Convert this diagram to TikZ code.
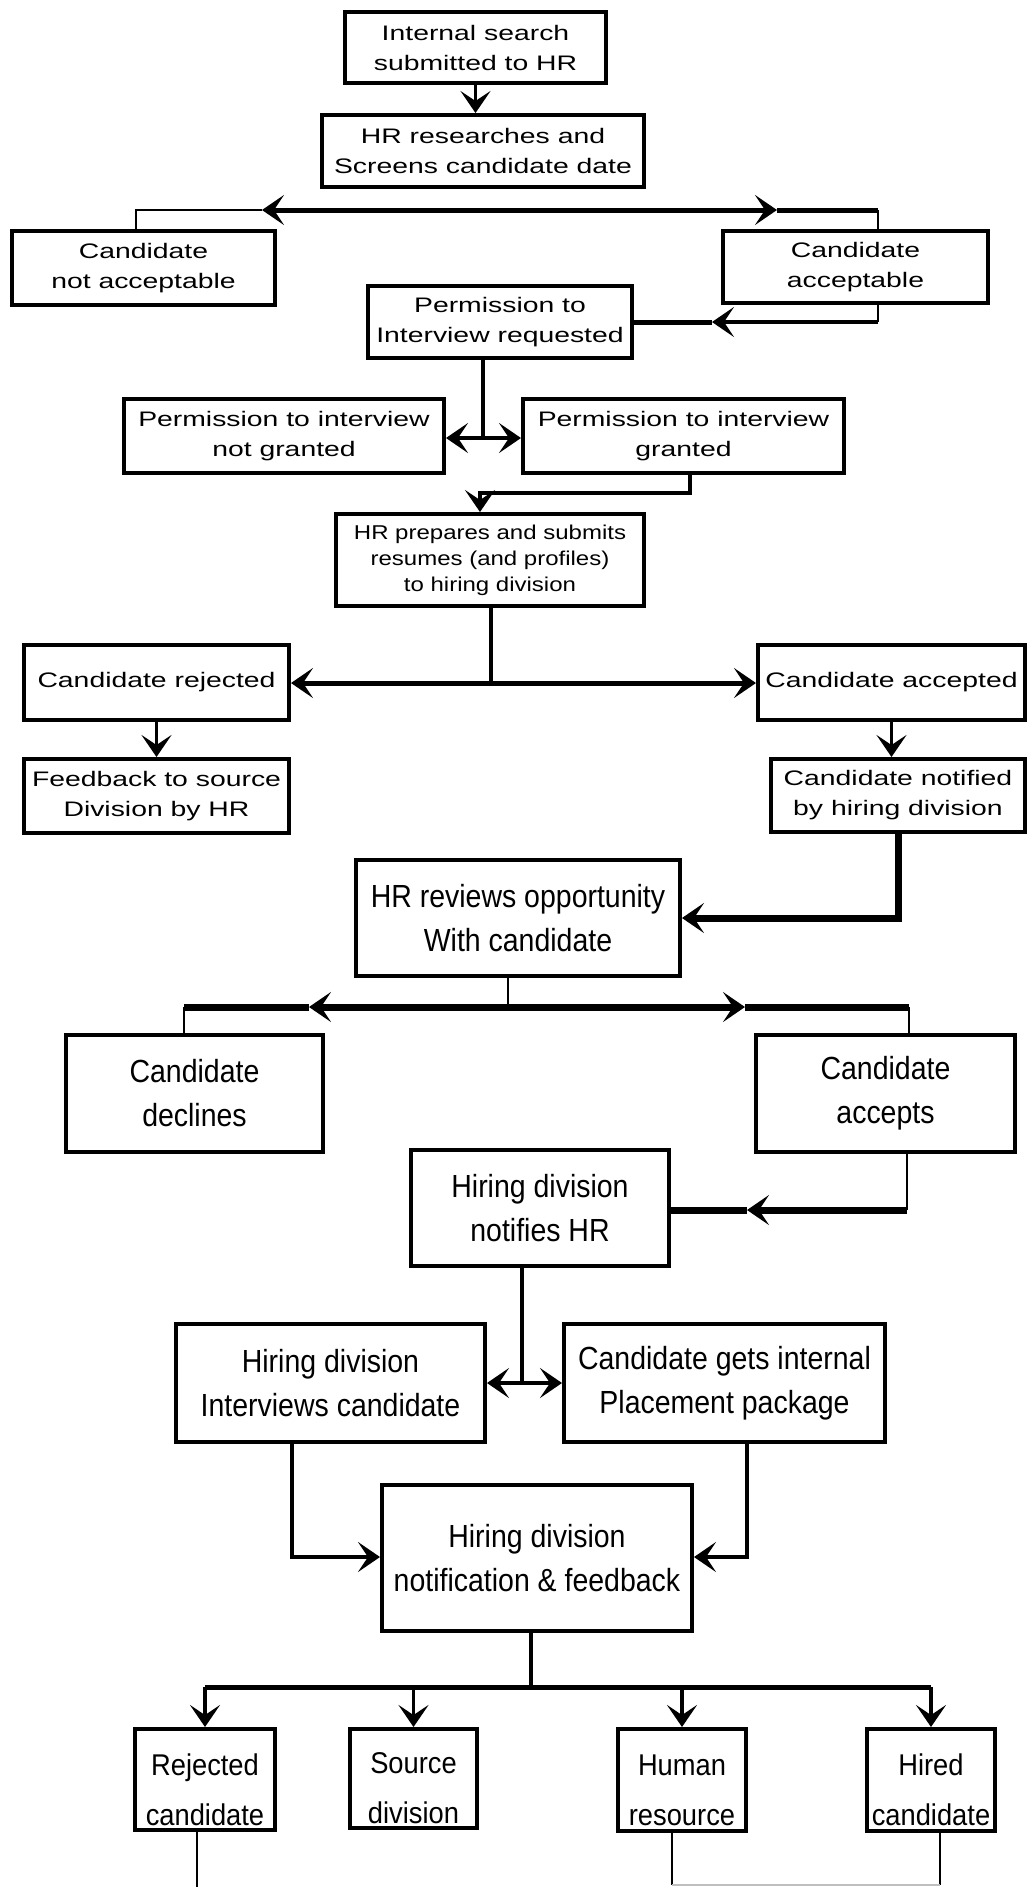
\documentclass[tikz,border=0pt]{standalone}
\usepackage{fontspec}
\setmainfont{Liberation Sans}
\newfontfamily\topfont[FakeStretch=1.35]{Liberation Sans}
\newfontfamily\midfont[FakeStretch=1.2]{Liberation Sans}
\newfontfamily\botfont[FakeStretch=0.89]{Liberation Sans}
\newfontfamily\smlfont[FakeStretch=0.91]{Liberation Sans}
\usetikzlibrary{arrows.meta}

\newcommand\placebox[7]{%
  \pgfmathsetmacro\bxw{(#4-#2)*0.5-1.8}%
  \pgfmathsetmacro\bxh{(#5-#3)*0.5-1.8}%
  \node[#6, minimum width=\bxw pt, minimum height=\bxh pt] (#1) at ({(#2+#4)/2},{(#3+#5)/2}) {#7};%
}

\tikzset{
  box/.style={draw, line width=1.8pt, inner sep=0pt, align=center, fill=white},
  topbox/.style={box, font=\topfont\fontsize{10.5}{15}\selectfont},
  midbox/.style={box, font=\midfont\fontsize{10}{13}\selectfont},
  botbox/.style={box, font=\botfont\fontsize{16}{22}\selectfont},
  smlbox/.style={box},
  smltext/.style={font=\smlfont\fontsize{15}{25}\selectfont, align=center, inner sep=0pt},
  lnthin/.style={line width=1pt},
  lnmid/.style={line width=1.6pt},
  lnthk/.style={line width=2.5pt},
  lnhvy/.style={line width=3.5pt},
  arr/.style={-{Stealth[length=11pt,width=15pt,inset=5pt]}},
}

\begin{document}
\begin{tikzpicture}[x=0.5pt,y=-0.5pt]
\fill[white] (0,0) rectangle (1030,1887);
\useasboundingbox (0,0) rectangle (1030,1887);

% boxes
\placebox{b1}{343}{10}{608}{85}{topbox}{Internal search\\submitted to HR}
\placebox{b2}{320}{113}{646}{189}{topbox}{HR researches and\\Screens candidate date}
\placebox{b4}{10}{229}{277}{307}{topbox}{Candidate\\not acceptable}
\placebox{b5}{721}{229}{990}{305}{topbox}{Candidate\\acceptable}
\placebox{b6}{366}{284}{634}{360}{topbox}{Permission to\\Interview requested}
\placebox{b7}{122}{397}{446}{475}{topbox}{Permission to interview\\not granted}
\placebox{b8}{521}{397}{846}{475}{topbox}{Permission to interview\\granted}
\placebox{b9}{334}{512}{646}{608}{midbox}{HR prepares and submits\\resumes (and profiles)\\to hiring division}
\placebox{b11}{22}{643}{291}{722}{topbox}{Candidate rejected}
\placebox{b12}{756}{643}{1027}{722}{topbox}{Candidate accepted}
\placebox{b13}{22}{757}{291}{835}{topbox}{Feedback to source\\Division by HR}
\placebox{b14}{769}{757}{1027}{834}{topbox}{Candidate notified\\by hiring division}
\placebox{b15}{354}{858}{682}{978}{botbox}{HR reviews opportunity\\With candidate}
\placebox{b17}{64}{1033}{325}{1154}{botbox}{Candidate\\declines}
\placebox{b18}{754}{1033}{1017}{1154}{botbox}{Candidate\\accepts}
\placebox{b19}{409}{1148}{671}{1268}{botbox}{Hiring division\\notifies HR}
\placebox{b20}{174}{1322}{487}{1444}{botbox}{Hiring division\\Interviews candidate}
\placebox{b21}{562}{1322}{887}{1444}{botbox}{Candidate gets internal\\Placement package}
\placebox{b22}{380}{1483}{694}{1633}{botbox}{Hiring division\\notification \& feedback}
\placebox{b23}{133}{1727}{277}{1832}{smlbox}{}
\placebox{b24}{348}{1727}{479}{1830}{smlbox}{}
\placebox{b25}{616}{1727}{748}{1833}{smlbox}{}
\placebox{b26}{865}{1727}{997}{1833}{smlbox}{}

% texts of the small boxes
\node[smltext] (t23) at ([yshift=-5pt]b23.center) {Rejected\\candidate};
\node[smltext] (t24) at ([yshift=-5pt]b24.center) {Source\\division};
\node[smltext] (t25) at ([yshift=-5pt]b25.center) {Human\\resource};
\node[smltext] (t26) at ([yshift=-5pt]b26.center) {Hired\\candidate};

% c1
\draw[lnmid, arr] (b1.south) -- (b1.south |- b2.north);

% c2 top split
\coordinate (s1) at (483,210);
\coordinate (s1l) at (136,210);
\coordinate (s1r) at (878,210);
\coordinate (s1la) at (262,210);
\coordinate (s1ra) at (777,210);
\draw[lnthk, arr] (s1) -- (s1la);
\draw[lnthin] (s1la) -- (s1l) -- (s1l |- b4.north);
\draw[lnthk, arr] (s1) -- (s1ra);
\draw[lnthk] (s1ra) -- (s1r);
\draw[lnthin] (s1r) -- (s1r |- b5.north);

% c3
\coordinate (k3) at (878,322);
\coordinate (k3a) at (712,322);
\draw[lnthin] (k3 |- b5.south) -- (k3);
\draw[lnmid, arr] (k3) -- (k3a);
\draw[lnthk] (k3a) -- (k3a -| b6.east);

% c4
\coordinate (k4) at (483,438);
\draw[lnmid] (k4 |- b6.south) -- (k4);
\draw[lnmid, arr] (k4) -- (k4 -| b7.east);
\draw[lnmid, arr] (k4) -- (k4 -| b8.west);

% c5
\coordinate (k5a) at (690,493);
\coordinate (k5b) at (480,493);
\draw[lnmid, arr] (k5a |- b8.south) -- (k5a) -- (k5b) -- (k5b |- b9.north);

% c6
\coordinate (k6) at (491,683);
\draw[lnmid] (k6 |- b9.south) -- (k6);
\draw[lnthk, arr] (k6) -- (k6 -| b11.east);
\draw[lnthk, arr] (k6) -- (k6 -| b12.west);

% c7, c8
\draw[lnmid, arr] (b11.south) -- (b11.south |- b13.north);
\draw[lnmid, arr] (b12.south) -- (b12.south |- b14.north);

% c9
\draw[lnhvy, arr] (b14.south) |- (b15.east);

% c10
\coordinate (k10) at (508,1007);
\coordinate (k10l) at (184,1007);
\coordinate (k10r) at (909,1007);
\coordinate (k10la) at (309,1007);
\coordinate (k10ra) at (745,1007);
\draw[lnthin] (k10 |- b15.south) -- (k10);
\draw[lnhvy, arr] (k10) -- (k10la);
\draw[lnhvy] (k10la) -- (k10l);
\draw[lnhvy, arr] (k10) -- (k10ra);
\draw[lnhvy] (k10ra) -- (k10r);
\draw[lnthin] (k10l) -- (k10l |- b17.north);
\draw[lnthin] (k10r) -- (k10r |- b18.north);

% c11
\coordinate (k11) at (907,1210);
\coordinate (k11a) at (747,1210);
\draw[lnthin] (k11 |- b18.south) -- (k11);
\draw[lnhvy, arr] (k11) -- (k11a);
\draw[lnhvy] (k11a) -- (k11a -| b19.east);

% c12
\coordinate (k12) at (522,1383);
\draw[lnmid] (k12 |- b19.south) -- (k12);
\draw[lnmid, arr] (k12) -- (k12 -| b20.east);
\draw[lnmid, arr] (k12) -- (k12 -| b21.west);

% c13, c14
\coordinate (k13) at (292,1557);
\coordinate (k14) at (747,1557);
\draw[lnmid, arr] (k13 |- b20.south) -- (k13) -- (k13 -| b22.west);
\draw[lnmid, arr] (k14 |- b21.south) -- (k14) -- (k14 -| b22.east);

% c15
\coordinate (k15) at (531,1687);
\draw[lnmid] (k15 |- b22.south) -- (k15);
\draw[lnthk] (b23.north |- k15) -- (b26.north |- k15);
\draw[lnmid, arr] (b23.north |- k15) -- (b23.north);
\draw[lnmid, arr] (b24.north |- k15) -- (b24.north);
\draw[lnmid, arr] (b25.north |- k15) -- (b25.north);
\draw[lnmid, arr] (b26.north |- k15) -- (b26.north);

% c16 bottom
\coordinate (e23) at (197,1887);
\coordinate (e25) at (672,1885);
\coordinate (e26) at (940,1885);
\draw[lnthin] (e23 |- b23.south) -- (e23);
\draw[lnthin] (e25 |- b25.south) -- (e25);
\draw[lnthin] (e26 |- b26.south) -- (e26);
\draw[lnthin, gray!50] (e25) -- (e26);
\end{tikzpicture}
\end{document}
